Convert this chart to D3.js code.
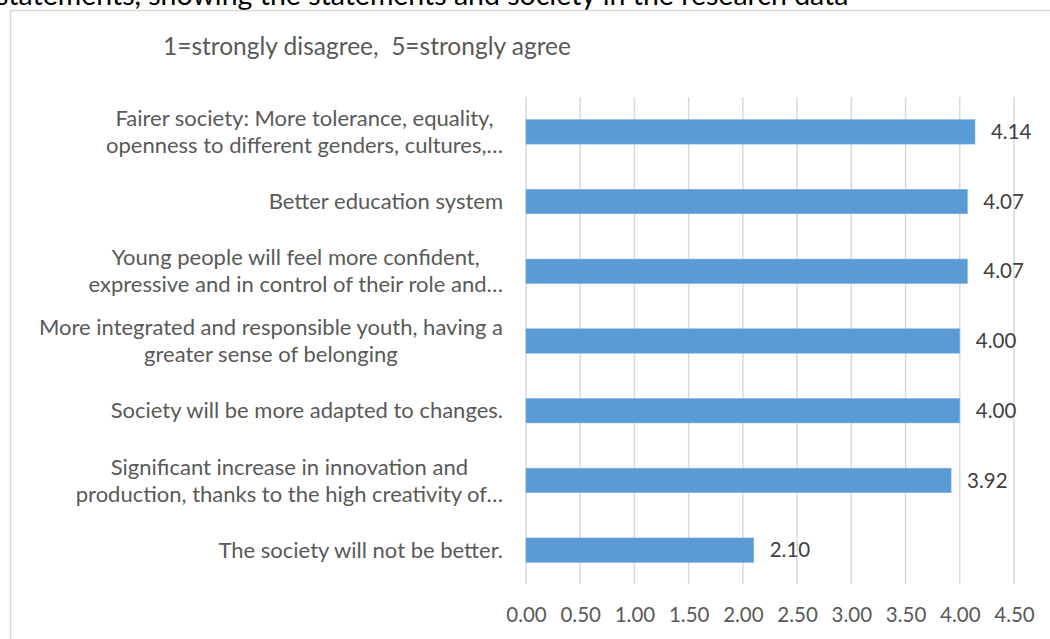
<!DOCTYPE html>
<html>
<head>
<meta charset="utf-8">
<script src="https://cdn.jsdelivr.net/npm/d3@7"></script>
<style>
  html, body { margin: 0; padding: 0; background: #fff; }
  svg { display: block; font-family: Lato, "Open Sans", sans-serif; }
</style>
</head>
<body>
<svg id="chart" width="1050" height="639"></svg>
<script>
// Statements (top to bottom), line breaks as shown in the axis labels
const categories = [
  "Fairer society: More tolerance, equality,\nopenness to different genders, cultures,…",
  "Better education system",
  "Young people will feel more confident,\nexpressive and in control of their role and…",
  "More integrated and responsible youth, having a\ngreater sense of belonging",
  "Society will be more adapted to changes.",
  "Significant increase in innovation and\nproduction, thanks to the high creativity of…",
  "The society will not be better."
];
// Mean agreement score per statement
const values = [4.14, 4.07, 4.07, 4.00, 4.00, 3.92, 2.10];
// Value axis ticks
const ticks = [0, 0.5, 1, 1.5, 2, 2.5, 3, 3.5, 4, 4.5];
const subtitle = "1=strongly disagree,  5=strongly agree";
const headerLine = "statements, showing the statements and society in the research data";

const FONT = "Lato, 'Open Sans', sans-serif";
const svg = d3.select("#chart");
const W = 1050, H = 639;

// Header line running off the top edge
svg.append("text")
  .attr("x", -4).attr("y", 5)
  .attr("font-size", 28.5)
  .attr("fill", "#000")
  .text(headerLine);

// Chart frame
svg.append("rect")
  .attr("x", 10.5).attr("y", 10.5)
  .attr("width", W + 20).attr("height", H + 20)
  .attr("fill", "#fff")
  .attr("stroke", "#d9d9d9")
  .attr("stroke-width", 1.5);

svg.append("text")
  .attr("x", 163).attr("y", 55)
  .attr("font-size", 24.5)
  .attr("fill", "#595959")
  .style("white-space", "pre")
  .text(subtitle);

const x = d3.scaleLinear().domain([0, 4.5]).range([526, 1014]);
const y = d3.scaleBand().domain(categories).range([97, 585])
  .paddingInner(0.65).paddingOuter(0.325);

// Vertical gridlines
svg.append("g").selectAll("line").data(ticks).join("line")
  .attr("x1", d => x(d)).attr("x2", d => x(d))
  .attr("y1", 97).attr("y2", 584)
  .attr("stroke", "#d9d9d9").attr("stroke-width", 1.5);

// Bars
svg.append("g").selectAll("rect").data(values).join("rect")
  .attr("x", x(0))
  .attr("y", (d, i) => y(categories[i]))
  .attr("width", d => x(d) - x(0))
  .attr("height", y.bandwidth())
  .attr("fill", "#5b9bd5")
  .attr("stroke", "#7eb0e0").attr("stroke-width", 0.6);

// Value labels
svg.append("g").selectAll("text").data(values).join("text")
  .attr("x", d => x(d) + 16)
  .attr("y", (d, i) => y(categories[i]) + y.bandwidth() / 2)
  .attr("dy", "0.35em")
  .attr("font-size", 20.5)
  .attr("fill", "#404040")
  .text(d => d3.format(".2f")(d));

// Value axis
const xAxis = svg.append("g")
  .attr("transform", "translate(0,604)")
  .call(d3.axisBottom(x).tickValues(ticks).tickFormat(d3.format(".2f")).tickSize(0));
xAxis.select(".domain").remove();
xAxis.selectAll("text")
  .attr("font-family", FONT)
  .attr("font-size", 20.5)
  .attr("fill", "#595959");

// Category labels: centred multi-line blocks, right edge against the plot
const labelRight = 503;
const lineH = 27;
const catG = svg.append("g");
categories.forEach(c => {
  const lines = c.split("\n");
  const t = catG.append("text")
    .attr("font-size", 22)
    .attr("fill", "#595959")
    .attr("text-anchor", "middle");
  const cy = y(c) + y.bandwidth() / 2;
  lines.forEach((ln, k) => {
    t.append("tspan")
      .attr("y", cy + (k - (lines.length - 1) / 2) * lineH)
      .attr("dy", "0.35em")
      .text(ln);
  });
  let maxW = 0;
  t.selectAll("tspan").each(function () {
    maxW = Math.max(maxW, this.getComputedTextLength());
  });
  t.selectAll("tspan").attr("x", labelRight - maxW / 2);
});
</script>
</body>
</html>
